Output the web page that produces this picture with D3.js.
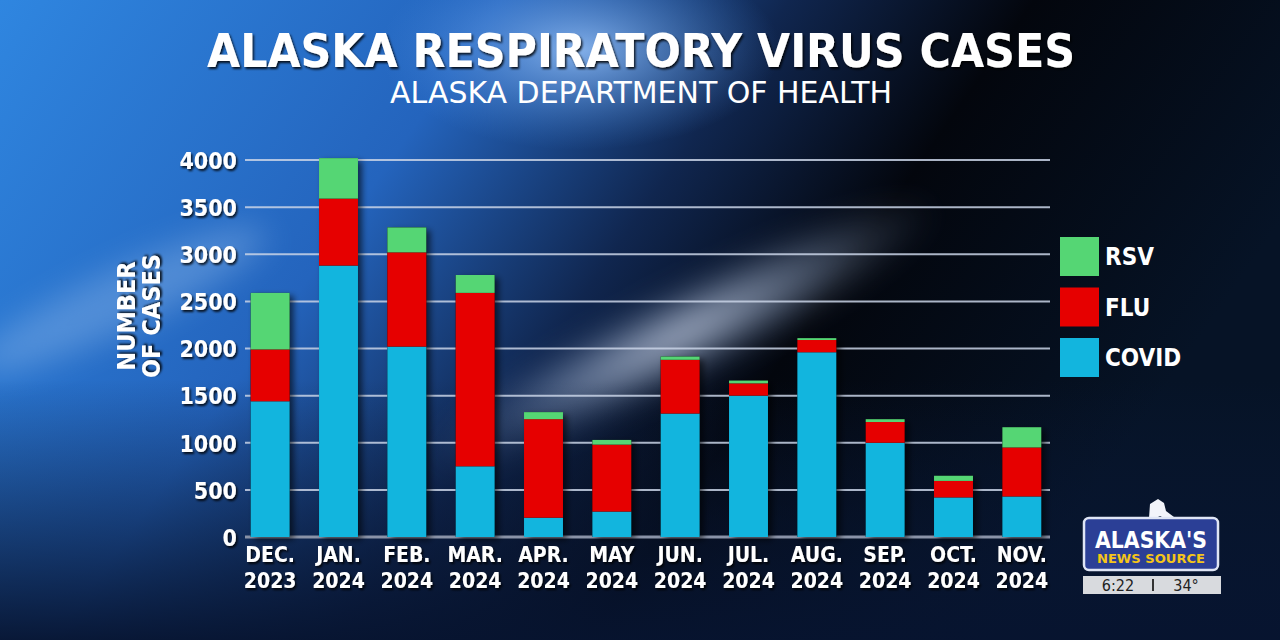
<!DOCTYPE html>
<html>
<head>
<meta charset="utf-8">
<title>Alaska Respiratory Virus Cases</title>
<script src="https://d3js.org/d3.v7.min.js"></script>
<style>
  html, body { margin: 0; padding: 0; background: #000; }
  svg { display: block; }
  text { font-family: 'DejaVu Sans Condensed', 'DejaVu Sans', sans-serif; fill: #fff; }
</style>
</head>
<body>
<svg id="chart" width="1280" height="640"></svg>
<script>
// data
var months = ['DEC.|2023', 'JAN.|2024', 'FEB.|2024', 'MAR.|2024', 'APR.|2024', 'MAY|2024',
              'JUN.|2024', 'JUL.|2024', 'AUG.|2024', 'SEP.|2024', 'OCT.|2024', 'NOV.|2024'];
var covid = [1440, 2880, 2020, 750, 205, 270, 1310, 1500, 1960, 1000, 420, 430];
var flu   = [550, 710, 1000, 1840, 1045, 710, 570, 130, 130, 220, 175, 520];
var rsv   = [600, 430, 265, 190, 75, 50, 35, 30, 20, 30, 55, 215];
var yTicks = [0, 500, 1000, 1500, 2000, 2500, 3000, 3500, 4000];
var seriesNames = ['COVID', 'FLU', 'RSV'];
var colors = { COVID: '#12b5de', FLU: '#e60000', RSV: '#55d674' };

var svg = d3.select('#chart');
var W = 1280, H = 640;

// ---- background ----
var defs = svg.append('defs');
var lg = defs.append('linearGradient').attr('id', 'bg').attr('x1', 0).attr('y1', 0).attr('x2', 1).attr('y2', 0.35);
lg.append('stop').attr('offset', '0%').attr('stop-color', '#2f86e0');
lg.append('stop').attr('offset', '35%').attr('stop-color', '#2464bd');
lg.append('stop').attr('offset', '55%').attr('stop-color', '#10264f');
lg.append('stop').attr('offset', '72%').attr('stop-color', '#03060d');
lg.append('stop').attr('offset', '100%').attr('stop-color', '#061326');

var bl = defs.append('linearGradient').attr('id', 'bottomDark').attr('x1', 0).attr('y1', 0).attr('x2', 0).attr('y2', 1);
bl.append('stop').attr('offset', '0%').attr('stop-color', '#0a1a3a').attr('stop-opacity', 0);
bl.append('stop').attr('offset', '100%').attr('stop-color', '#071430').attr('stop-opacity', 0.95);

var glow = defs.append('radialGradient').attr('id', 'glow');
glow.append('stop').attr('offset', '0%').attr('stop-color', '#e6eeff').attr('stop-opacity', 0.95);
glow.append('stop').attr('offset', '100%').attr('stop-color', '#8fb0e0').attr('stop-opacity', 0);

var topGlow = defs.append('radialGradient').attr('id', 'topGlow');
topGlow.append('stop').attr('offset', '0%').attr('stop-color', '#9cc8ff').attr('stop-opacity', 0.8);
topGlow.append('stop').attr('offset', '100%').attr('stop-color', '#4a8ce0').attr('stop-opacity', 0);

defs.append('filter').attr('id', 'blur').attr('x', '-50%').attr('y', '-50%').attr('width', '200%').attr('height', '200%')
  .append('feGaussianBlur').attr('stdDeviation', 16);

var sh = defs.append('filter').attr('id', 'shadow').attr('x', '-20%').attr('y', '-20%').attr('width', '160%').attr('height', '140%');
sh.append('feDropShadow').attr('dx', 4).attr('dy', 3).attr('stdDeviation', 3).attr('flood-color', '#000').attr('flood-opacity', 0.6);

var tsh = defs.append('filter').attr('id', 'tshadow').attr('x', '-10%').attr('y', '-30%').attr('width', '120%').attr('height', '160%');
tsh.append('feDropShadow').attr('dx', 1.5).attr('dy', 2).attr('stdDeviation', 1.2).attr('flood-color', '#000').attr('flood-opacity', 0.85);

svg.append('rect').attr('width', W).attr('height', H).attr('fill', 'url(#bg)');
svg.append('ellipse').attr('cx', 580).attr('cy', 50).attr('rx', 200).attr('ry', 100).attr('fill', 'url(#topGlow)');
// light streak
svg.append('ellipse').attr('cx', 680).attr('cy', 335).attr('rx', 290).attr('ry', 45)
  .attr('transform', 'rotate(-27 680 335)').attr('fill', 'url(#glow)').attr('filter', 'url(#blur)').attr('opacity', 0.85);
svg.append('ellipse').attr('cx', 120).attr('cy', 300).attr('rx', 160).attr('ry', 30)
  .attr('transform', 'rotate(-25 120 300)').attr('fill', '#9fc4f0').attr('filter', 'url(#blur)').attr('opacity', 0.35);
svg.append('rect').attr('y', 380).attr('width', W).attr('height', 260).attr('fill', 'url(#bottomDark)');

// ---- scales ----
var x = d3.scaleBand().domain(months).range([236, 1056]).paddingInner(0.43).paddingOuter(0.215);
var y = d3.scaleLinear().domain([0, 4000]).range([537, 160]);

// grid
var yAxis = d3.axisLeft(y).tickValues(yTicks).tickFormat(d3.format('d')).tickSize(0).tickPadding(0);
var gridG = svg.append('g').attr('class', 'grid');
gridG.selectAll('line').data(yTicks).join('line')
  .attr('x1', 245).attr('x2', 1050)
  .attr('y1', function(d) { return y(d); }).attr('y2', function(d) { return y(d); })
  .attr('stroke', function(d) { return d === 0 ? '#8a93a8' : '#c9d3e6'; })
  .attr('stroke-opacity', function(d) { return d === 0 ? 1 : 0.85; })
  .attr('stroke-width', function(d) { return d === 0 ? 3 : 2; });

// y axis labels
var ax = svg.append('g').attr('transform', 'translate(237,0)').call(yAxis);
ax.select('.domain').remove();
ax.selectAll('text')
  .attr('font-family', "'DejaVu Sans Condensed', sans-serif")
  .attr('font-size', 23).attr('font-weight', 'bold').attr('fill', '#fff')
  .attr('dy', '0.36em').attr('filter', 'url(#tshadow)');

// y axis title
var yt = svg.append('text').attr('transform', 'translate(139,316) rotate(-90)')
  .attr('text-anchor', 'middle').attr('font-size', 25).attr('font-weight', 'bold').attr('filter', 'url(#tshadow)');
yt.append('tspan').attr('x', 0).attr('dy', '-0.15em').text('NUMBER');
yt.append('tspan').attr('x', 0).attr('dy', '1.0em').text('OF CASES');

// ---- stacked bars ----
var rows = months.map(function(m, i) { return { month: m, COVID: covid[i], FLU: flu[i], RSV: rsv[i] }; });
var stack = d3.stack().keys(seriesNames)(rows);

var barsG = svg.append('g');
barsG.selectAll('rect.sh').data(rows).join('rect')
  .attr('class', 'sh')
  .attr('x', function(d) { return x(d.month); })
  .attr('y', function(d) { return y(d.COVID + d.FLU + d.RSV); })
  .attr('width', x.bandwidth())
  .attr('height', function(d) { return y(0) - y(d.COVID + d.FLU + d.RSV); })
  .attr('fill', '#000').attr('filter', 'url(#shadow)');

barsG.selectAll('g.layer').data(stack).join('g')
  .attr('class', 'layer')
  .attr('fill', function(d) { return colors[d.key]; })
  .selectAll('rect').data(function(d) { return d; }).join('rect')
  .attr('x', function(d) { return x(d.data.month); })
  .attr('y', function(d) { return y(d[1]); })
  .attr('width', x.bandwidth())
  .attr('height', function(d) { return y(d[0]) - y(d[1]); });

// x labels
var xl = svg.append('g').selectAll('text').data(months).join('text')
  .attr('x', function(d) { return x(d) + x.bandwidth() / 2; })
  .attr('y', 562)
  .attr('text-anchor', 'middle').attr('font-size', 21).attr('font-weight', 'bold')
  .attr('filter', 'url(#tshadow)');
xl.append('tspan').attr('x', function(d) { return x(d) + x.bandwidth() / 2; }).text(function(d) { return d.split('|')[0]; });
xl.append('tspan').attr('x', function(d) { return x(d) + x.bandwidth() / 2; }).attr('dy', 26).text(function(d) { return d.split('|')[1]; });

// ---- legend ----
var legendKeys = ['RSV', 'FLU', 'COVID'];
var lgG = svg.append('g').selectAll('g').data(legendKeys).join('g')
  .attr('transform', function(d, i) { return 'translate(1060,' + (237 + i * 50.5) + ')'; });
lgG.append('rect').attr('width', 39).attr('height', 39).attr('fill', function(d) { return colors[d]; });
lgG.append('text').attr('x', 45).attr('y', 28).attr('font-size', 24).attr('font-weight', 'bold')
  .text(function(d) { return d; });

// ---- titles ----
svg.append('text').attr('x', 641).attr('y', 67).attr('text-anchor', 'middle')
  .attr('font-family', "'DejaVu Sans', sans-serif")
  .attr('font-size', 46).attr('font-weight', 'bold')
  .attr('textLength', 868).attr('lengthAdjust', 'spacingAndGlyphs')
  .attr('filter', 'url(#tshadow)')
  .text('ALASKA RESPIRATORY VIRUS CASES');
svg.append('text').attr('x', 641).attr('y', 103).attr('text-anchor', 'middle')
  .attr('font-family', "'DejaVu Sans Condensed', sans-serif")
  .attr('font-size', 30).attr('font-weight', 'normal')
  .attr('textLength', 502).attr('lengthAdjust', 'spacingAndGlyphs')
  .text('ALASKA DEPARTMENT OF HEALTH');

// ---- station bug ----
var bug = svg.append('g');
bug.append('path')
  .attr('d', 'M1149,518 L1150,504 L1158,499 L1164,503 L1166,511 L1174,517 L1170,521 L1160,516 L1152,520 Z')
  .attr('fill', '#f2f4fa');
bug.append('rect').attr('x', 1084).attr('y', 518).attr('width', 134).attr('height', 52).attr('rx', 5)
  .attr('fill', '#2b3f96').attr('stroke', '#dfe5f5').attr('stroke-width', 2.5);
bug.append('text').attr('x', 1151).attr('y', 548).attr('text-anchor', 'middle')
  .attr('font-size', 23).attr('font-weight', 'bold').attr('textLength', 112).attr('lengthAdjust', 'spacingAndGlyphs')
  .text("ALASKA'S");
bug.append('text').attr('x', 1151).attr('y', 563).attr('text-anchor', 'middle')
  .attr('font-size', 13).attr('font-weight', 'bold')
  .attr('textLength', 108).attr('lengthAdjust', 'spacingAndGlyphs')
  .style('fill', '#f5c518')
  .text('NEWS SOURCE');
bug.append('rect').attr('x', 1083).attr('y', 576).attr('width', 138).attr('height', 18).attr('fill', '#d8dade');
bug.append('text').attr('x', 1118).attr('y', 591).attr('text-anchor', 'middle')
  .attr('font-family', "'Liberation Sans', sans-serif").attr('font-size', 16)
  .style('fill', '#222').text('6:22');
bug.append('rect').attr('x', 1152).attr('y', 579).attr('width', 2).attr('height', 12).attr('fill', '#333');
bug.append('text').attr('x', 1186).attr('y', 591).attr('text-anchor', 'middle')
  .attr('font-family', "'Liberation Sans', sans-serif").attr('font-size', 16)
  .style('fill', '#222').text('34°');
</script>
</body>
</html>
